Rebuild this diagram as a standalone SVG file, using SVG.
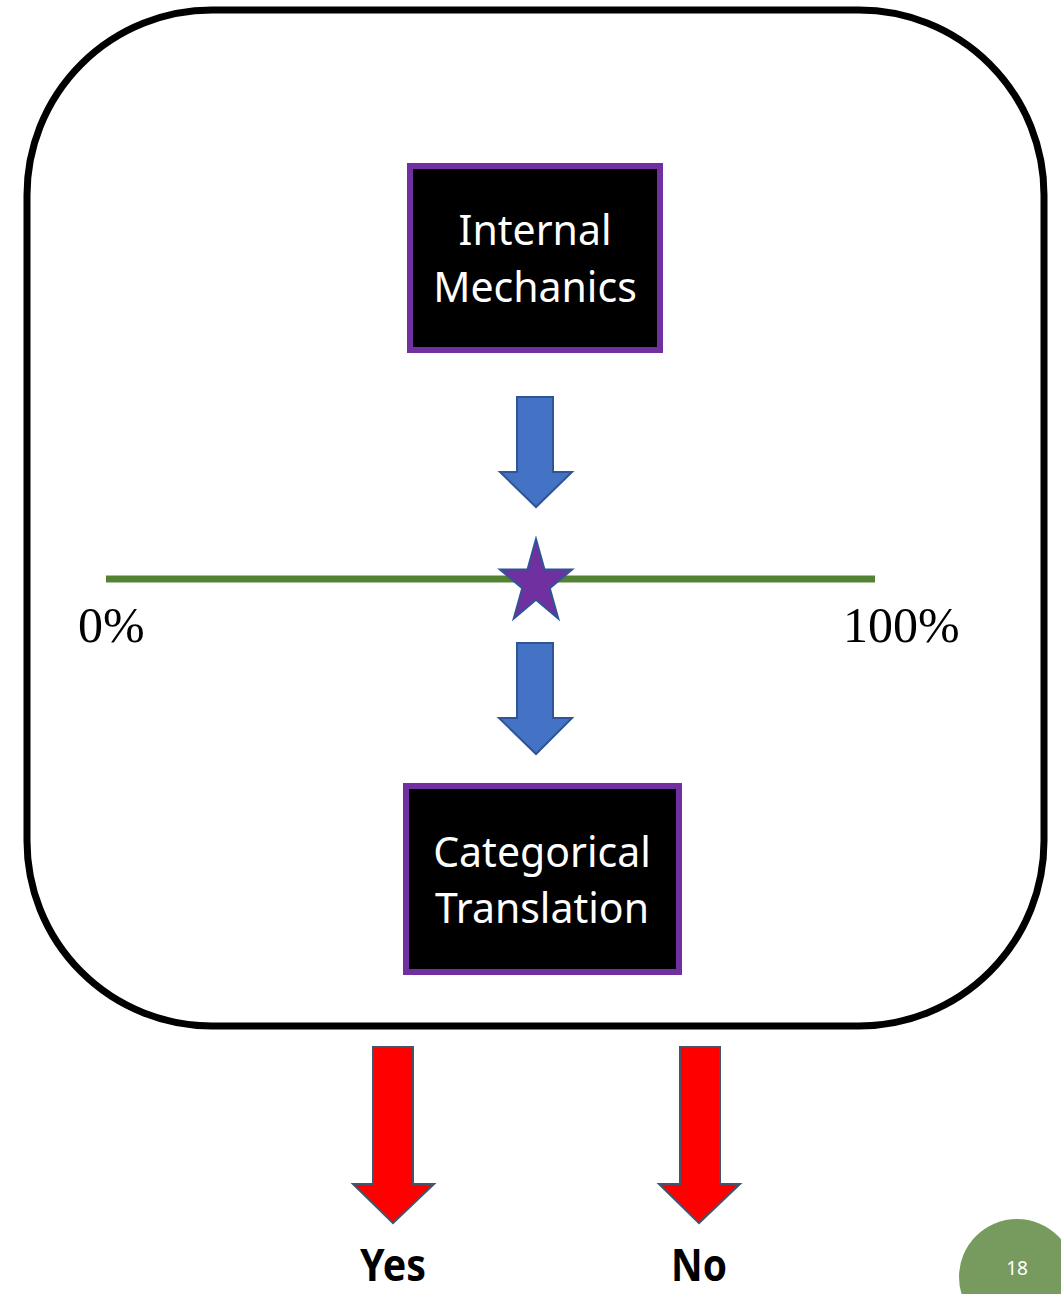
<svg xmlns="http://www.w3.org/2000/svg" width="1061" height="1294" viewBox="0 0 1061 1294">
  <style>
    .frame { fill: none; stroke: #000000; stroke-width: 7; }
    .box { fill: #000000; stroke: #7030A0; stroke-width: 6; }
    .boxText { font-family: "Noto Sans", "Open Sans", sans-serif; font-size: 41px; fill: #FFFFFF; text-anchor: middle; }
    .scale { font-family: "Liberation Serif", "DejaVu Serif", serif; font-size: 50px; fill: #000000; }
    .blueArrow { fill: #4472C4; stroke: #2F5597; stroke-width: 2; stroke-linejoin: miter; }
    .redArrow { fill: #FF0000; stroke: #44546A; stroke-width: 2; stroke-linejoin: miter; }
    .answer { font-family: "Noto Sans", "Open Sans", sans-serif; font-weight: bold; font-size: 44px; fill: #000000; text-anchor: middle; }
    .pageNum { font-family: "Noto Sans", "Open Sans", sans-serif; font-size: 19px; fill: #FFFFFF; text-anchor: middle; }
  </style>

  <!-- outer rounded frame -->
  <rect class="frame" x="27" y="10" width="1017" height="1016" rx="185" ry="185"/>

  <!-- process boxes -->
  <g id="internal-mechanics">
    <rect class="box" x="410" y="166" width="250" height="184"/>
    <text class="boxText" x="535" y="245">Internal</text>
    <text class="boxText" x="535" y="302">Mechanics</text>
  </g>

  <g id="categorical-translation">
    <rect class="box" x="406" y="786" width="273" height="186"/>
    <text class="boxText" x="542" y="867">Categorical</text>
    <text class="boxText" x="542" y="923">Translation</text>
  </g>

  <!-- percentage scale with marker -->
  <g id="scale">
    <line x1="106" y1="579" x2="875" y2="579" stroke="#548235" stroke-width="7"/>
    <text class="scale" x="78" y="642">0%</text>
    <text class="scale" x="843" y="642">100%</text>
  </g>

  <g id="marker-star">
    <polygon fill="#7030A0" stroke="#2F5597" stroke-width="2" stroke-linejoin="miter"
      points="536,539 544.5,569.4 572.1,569.4 549.8,588.2 558.3,618.6 536,599.8 513.7,618.6 522.2,588.2 499.9,569.4 527.5,569.4"/>
  </g>

  <!-- block arrows -->
  <g id="connectors">
    <polygon class="blueArrow" points="517,397 553,397 553,472 572,472 536,507 500,472 517,472"/>
    <polygon class="blueArrow" points="517,643 553,643 553,718 572,718 536,754 499,718 517,718"/>
    <polygon class="redArrow" points="373,1047 413,1047 413,1184 434,1184 393,1223 353,1184 373,1184"/>
    <polygon class="redArrow" points="680,1047 720,1047 720,1184 740,1184 699,1223 659,1184 680,1184"/>
  </g>

  <!-- outcome labels -->
  <g id="yes">
    <text class="answer" x="393" y="1281" textLength="66" lengthAdjust="spacingAndGlyphs">Yes</text>
  </g>
  <g id="no">
    <text class="answer" x="699" y="1281" textLength="56" lengthAdjust="spacingAndGlyphs">No</text>
  </g>

  <!-- page number badge -->
  <g id="page-number">
    <circle cx="1017" cy="1277" r="58" fill="#779B5E"/>
    <text class="pageNum" x="1017" y="1275">18</text>
  </g>
</svg>
